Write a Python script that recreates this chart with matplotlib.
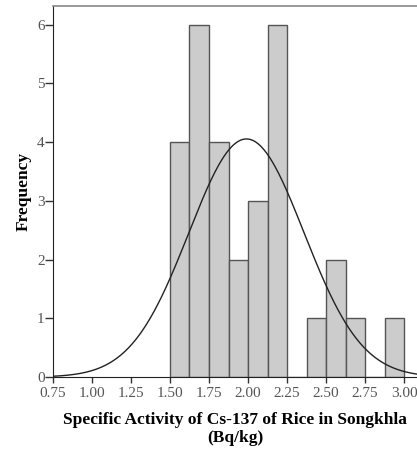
import numpy as np
import matplotlib
matplotlib.use("Agg")
import matplotlib.pyplot as plt

# histogram bins (left edges) and counts
bin_left = [1.500, 1.625, 1.750, 1.875, 2.000, 2.125, 2.250, 2.375, 2.500, 2.625, 2.750, 2.875]
counts = [4, 6, 4, 2, 3, 6, 0, 1, 2, 1, 0, 1]
bin_width = 0.125

# fitted normal curve
mean = 1.99
std_dev = 0.369
n_total = 30

x_ticks = [0.75, 1.00, 1.25, 1.50, 1.75, 2.00, 2.25, 2.50, 2.75, 3.00]
y_ticks = [0, 1, 2, 3, 4, 5, 6]

plt.rcParams['font.family'] = ['Liberation Serif', 'DejaVu Serif']

fig = plt.figure(figsize=(4.17, 4.5), dpi=100)
ax = fig.add_axes([0.127, 0.162, 0.873, 0.825])

ax.bar(bin_left, counts, width=bin_width, align='edge',
       color='#cccccc', edgecolor='#555555', linewidth=1.0, zorder=2)

xs = np.linspace(0.75, 3.1, 400)
ys = n_total * bin_width / (std_dev * np.sqrt(2 * np.pi)) * np.exp(-0.5 * ((xs - mean) / std_dev) ** 2)
ax.plot(xs, ys, color='#222222', linewidth=1.0, zorder=3)

ax.set_xlim(0.75, 3.083)
ax.set_ylim(0, 6.32)
ax.set_xticks(x_ticks)
ax.set_xticklabels([f"{t:.2f}" for t in x_ticks])
ax.set_yticks(y_ticks)

ax.tick_params(axis='both', direction='out', width=1, color='#333333',
               labelsize=11, labelcolor='#555555')
ax.tick_params(axis='x', length=4, pad=3)
ax.tick_params(axis='y', length=5.5, pad=0.5)

ax.spines['top'].set_color('#888888')
ax.spines['top'].set_linewidth(1.2)
ax.spines['right'].set_visible(False)
ax.spines['left'].set_color('#222222')
ax.spines['bottom'].set_color('#222222')

ax.set_xlabel("Specific Activity of Cs-137 of Rice in Songkhla\n(Bq/kg)",
              fontsize=12.5, fontweight='bold', linespacing=1.1, labelpad=9)
ax.set_ylabel("Frequency", fontsize=12.5, fontweight='bold', labelpad=4)

fig.savefig("out.png", dpi=100)
